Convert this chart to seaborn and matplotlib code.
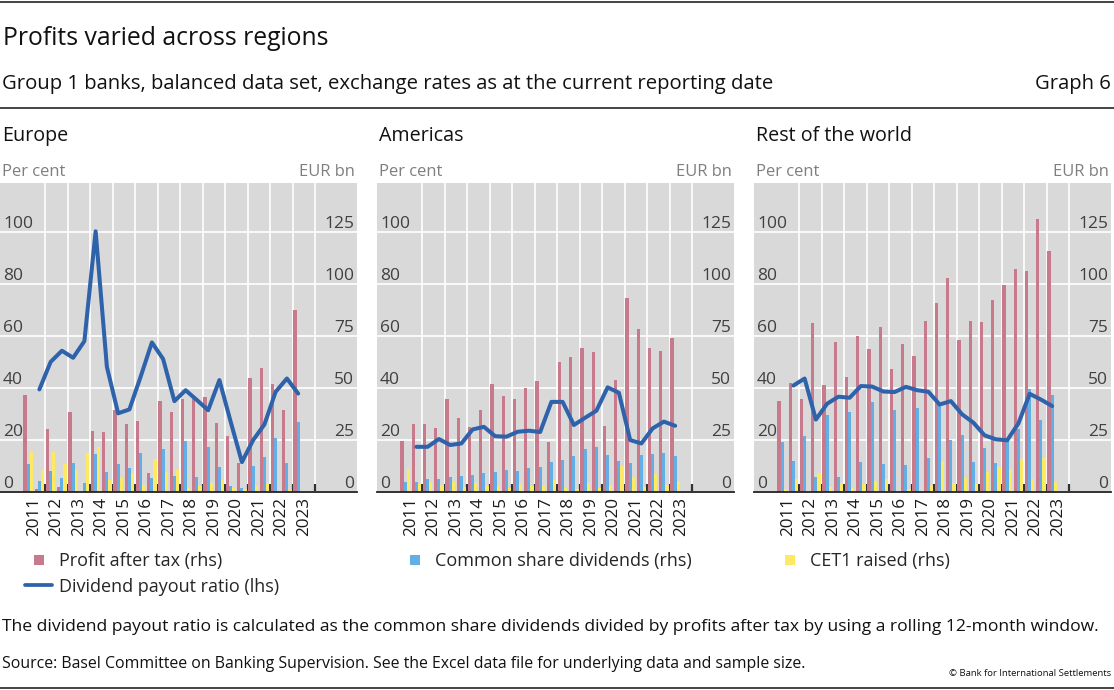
import numpy as np
import pandas as pd
import matplotlib
matplotlib.use("Agg")
import matplotlib.pyplot as plt
from matplotlib.lines import Line2D
import seaborn as sns

# ---------------- data (half-years 2011H1 ... 2023H1) ----------------
years = [str(y) for y in range(2011, 2024)]
halves = [f"{y}H{h}" for y in range(2011, 2024) for h in (1, 2)][:25]

eu_profit = [46.6, 1.6, 30.1, 2.2, 38.6, 0.0, 29.3, 28.7, 39.4, 32.9, 34.3, 9.0, 43.9,
             38.5, 45.0, 44.6, 45.5, 33.0, 26.9, 14.0, 55.0, 59.6, 52.1, 39.6, 87.8]
eu_div = [13.5, 5.1, 10.3, 6.7, 13.8, 4.5, 18.3, 9.5, 13.3, 11.7, 18.6, 6.6, 20.7,
          7.7, 24.5, 7.1, 21.5, 11.9, 2.9, 2.1, 12.5, 16.7, 25.8, 13.9, 33.7]
eu_cet1 = [19.4, 10.7, 19.1, 13.5, 10.6, 18.6, 21.5, 5.8, 6.9, 9.0, 3.4, 15.9, 9.6,
           10.6, 1.8, 2.9, 4.5, 5.8, 2.1, 1.4, 2.9, 4.2, 0.5, 1.0, 0.0]
eu_payout = [np.nan, 39.5, 50.1, 54.4, 51.7, 58.1, 100.4, 48.2, 30.3, 31.8, 44.4, 57.6, 51.2,
             35.0, 39.2, 35.4, 31.5, 43.1, 27.1, 11.5, 20.0, 26.0, 38.6, 43.7, 37.9]

am_profit = [24.5, 32.5, 32.7, 30.8, 44.6, 35.6, 31.4, 39.3, 52.2, 46.2, 44.7, 50.0, 53.2,
             23.9, 62.7, 64.9, 69.1, 67.3, 31.7, 53.8, 93.6, 78.4, 69.2, 67.8, 74.0]
am_div = [4.6, 4.8, 6.3, 6.3, 7.1, 7.9, 8.2, 9.1, 9.8, 10.7, 10.3, 11.7, 11.9,
          14.6, 15.4, 17.3, 20.5, 21.6, 17.8, 14.7, 14.1, 17.9, 18.1, 18.8, 17.3]
am_cet1 = [10.9, 4.0, 4.6, 3.2, 4.8, 2.6, 4.2, 3.0, 3.0, 2.1, 3.8, 2.9, 2.9,
           5.8, 2.1, 1.4, 4.2, 1.8, 3.2, 12.7, 7.1, 2.4, 8.7, 3.4, 5.4]
am_payout = [np.nan, 17.4, 17.4, 20.4, 18.1, 18.7, 24.1, 25.1, 21.5, 21.3, 23.2, 23.6, 23.1,
             34.7, 34.7, 25.8, 28.6, 31.3, 40.3, 38.2, 20.0, 18.7, 24.5, 27.1, 25.5]

rw_profit = [43.8, 52.6, 44.6, 81.4, 51.3, 72.3, 55.4, 75.3, 68.6, 79.3, 59.0, 71.3, 65.4,
             82.5, 91.2, 103.2, 73.2, 82.4, 81.9, 92.5, 99.8, 107.4, 106.3, 131.3, 116.0]
rw_div = [24.2, 14.9, 26.9, 7.4, 37.3, 7.4, 38.6, 14.4, 43.4, 13.3, 39.4, 12.8, 40.4,
          16.3, 42.1, 25.0, 27.6, 14.3, 21.3, 13.8, 25.0, 30.4, 49.7, 34.6, 46.5]
rw_cet1 = [1.6, 6.1, 0.3, 9.3, 2.6, 4.2, 1.8, 3.7, 5.3, 6.1, 0.3, 1.3, 0.6,
           3.2, 14.9, 4.2, 6.6, 3.8, 9.8, 12.0, 11.2, 15.7, 6.4, 16.2, 5.0]
rw_payout = [np.nan, 41.0, 43.7, 27.9, 34.0, 36.7, 36.3, 40.8, 40.6, 38.7, 38.5, 40.5, 39.2,
             38.6, 33.7, 35.0, 29.9, 26.7, 21.8, 20.3, 19.9, 26.4, 37.8, 35.6, 33.1]

panels = ["Europe", "Americas", "Rest of the world"]
bar_series = ["Profit after tax (rhs)", "Common share dividends (rhs)", "CET1 raised (rhs)"]
line_series = "Dividend payout ratio (lhs)"
lhs_ticks = [0, 20, 40, 60, 80, 100]
rhs_ticks = [0, 25, 50, 75, 100, 125]

panel_data = {
    "Europe": (eu_profit, eu_div, eu_cet1, eu_payout),
    "Americas": (am_profit, am_div, am_cet1, am_payout),
    "Rest of the world": (rw_profit, rw_div, rw_cet1, rw_payout),
}

# ---------------- style ----------------
sns.set_theme(style="white")
plt.rcParams['font.family'] = ['Open Sans', 'DejaVu Sans']

colors = {bar_series[0]: '#c77a8b', bar_series[1]: '#63aee4', bar_series[2]: '#fde962'}
line_color = '#2e62aa'
bg = '#d9d9d9'
tick_col = '#404040'
unit_col = '#7f7f7f'

W, H = 1114, 690
fig = plt.figure(figsize=(W / 100, H / 100), dpi=100)


def fx(px):
    return px / W


def fy(py):
    return 1 - py / H


panel_lefts = [0, 377, 754]
panel_w = 357
ax_top, ax_bot = 183, 492

for name, left in zip(panels, panel_lefts):
    profit, div, cet1, payout = panel_data[name]
    n = len(halves)
    df = pd.DataFrame({
        'slot': list(range(n)) * 3,
        'series': [bar_series[0]] * n + [bar_series[1]] * n + [bar_series[2]] * n,
        'value': list(profit) + list(div) + list(cet1),
    })
    ax = fig.add_axes([fx(left), fy(ax_bot), fx(panel_w), (ax_bot - ax_top) / H])
    ax.set_facecolor(bg)
    sns.barplot(data=df, x='slot', y='value', hue='series', hue_order=bar_series,
                palette=colors, width=0.84, saturation=1, linewidth=0,
                errorbar=None, legend=False, ax=ax)

    ax2 = ax.twinx()
    ldf = pd.DataFrame({'slot': range(n), 'ratio': payout}).dropna()
    sns.lineplot(data=ldf, x='slot', y='ratio', ax=ax2, color=line_color,
                 linewidth=2.9, legend=False)

    # limits
    ax.set_xlim(-2.5, 29.23)
    ax.set_ylim(0, 148.75)
    ax2.set_ylim(0, 119)

    # x axis: ticks at year boundaries, labels at year centres
    ax.set_xticks(np.arange(1.5, 26, 2))
    ax.set_xticklabels([])
    ax.set_xticks(np.arange(0.5, 25, 2), labels=years, minor=True)
    ax.tick_params(axis='x', which='major', direction='in', length=6, width=1.6,
                   color='#333333', bottom=True)
    ax.tick_params(axis='x', which='minor', length=0, pad=3.5, labelsize=12.3,
                   labelrotation=90, labelcolor='#1a1a1a')

    # y axes: rhs (bars) on ax, lhs (line) on ax2
    ax.set_yticks(rhs_ticks)
    ax2.set_yticks(lhs_ticks)
    ax.yaxis.set_ticks_position('right')
    ax2.yaxis.set_ticks_position('left')
    ax.tick_params(axis='y', length=0, pad=-2.2, labelsize=12.5, labelcolor=tick_col)
    ax2.tick_params(axis='y', length=0, pad=-2.2, labelsize=12.5, labelcolor=tick_col)
    plt.setp(ax.get_yticklabels(), ha='right', va='bottom')
    plt.setp(ax2.get_yticklabels(), ha='left', va='bottom')

    ax.set_axisbelow(True)
    ax.grid(axis='x', which='major', color='white', linewidth=1.2)
    ax.grid(axis='y', which='major', color='white', linewidth=1.2)
    ax2.grid(False)
    for a in (ax, ax2):
        a.set_xlabel('')
        a.set_ylabel('')
        for s in ('top', 'left', 'right'):
            a.spines[s].set_visible(False)
    ax2.spines['bottom'].set_visible(False)
    ax.spines['bottom'].set_color('#222222')
    ax.spines['bottom'].set_linewidth(1.3)

    # panel headings
    fig.text(fx(left + 2), fy(141), name, fontsize=14.2, color='#111111', va='baseline')
    fig.text(fx(left + 2), fy(176), 'Per cent', fontsize=11.9, color=unit_col, va='baseline')
    fig.text(fx(left + panel_w - 2), fy(176), 'EUR bn', fontsize=11.9, color=unit_col,
             va='baseline', ha='right')

# ---------------- legends ----------------
def sq(c, label):
    return Line2D([], [], marker='s', linestyle='', markersize=7.5, color=c,
                  markeredgewidth=0, label=label)


leg_kw = dict(loc='upper left', frameon=False, fontsize=13, handlelength=1.5,
              handletextpad=0.36, borderpad=0, borderaxespad=0, labelspacing=0.42)
fig.legend(handles=[sq(colors[bar_series[0]], bar_series[0]),
                    Line2D([], [], color=line_color, lw=2.7, label=line_series)],
           bbox_to_anchor=(fx(25), fy(552)), **leg_kw)
fig.legend(handles=[sq(colors[bar_series[1]], bar_series[1])],
           bbox_to_anchor=(fx(401.7), fy(552)), **leg_kw)
fig.legend(handles=[sq(colors[bar_series[2]], bar_series[2])],
           bbox_to_anchor=(fx(776.7), fy(552)), **leg_kw)

# ---------------- titles, notes, rules ----------------
fig.text(fx(3), fy(45), 'Profits varied across regions', fontsize=17.8, color='#111111',
         va='baseline')
fig.text(fx(2), fy(89), 'Group 1 banks, balanced data set, exchange rates as at the current reporting date',
         fontsize=14.6, color='#111111', va='baseline')
fig.text(fx(1111), fy(89), 'Graph 6', fontsize=14.6, color='#111111', va='baseline', ha='right')
fig.text(fx(2), fy(631), 'The dividend payout ratio is calculated as the common share dividends divided by '
         'profits after tax by using a rolling 12-month window.', fontsize=12.6, color='#111111',
         va='baseline')
fig.text(fx(2), fy(668), 'Source: Basel Committee on Banking Supervision. See the Excel data file for '
         'underlying data and sample size.', fontsize=11.4, color='#111111', va='baseline')
fig.text(fx(1111), fy(676), '\u00a9 Bank for International Settlements', fontsize=6.8,
         color='#111111', va='baseline', ha='right')

for yy in (1.5, 108, 688):
    fig.add_artist(Line2D([0, 1], [fy(yy), fy(yy)], transform=fig.transFigure,
                          color='#111111', linewidth=1.1))

fig.savefig('out.png', dpi=100)
